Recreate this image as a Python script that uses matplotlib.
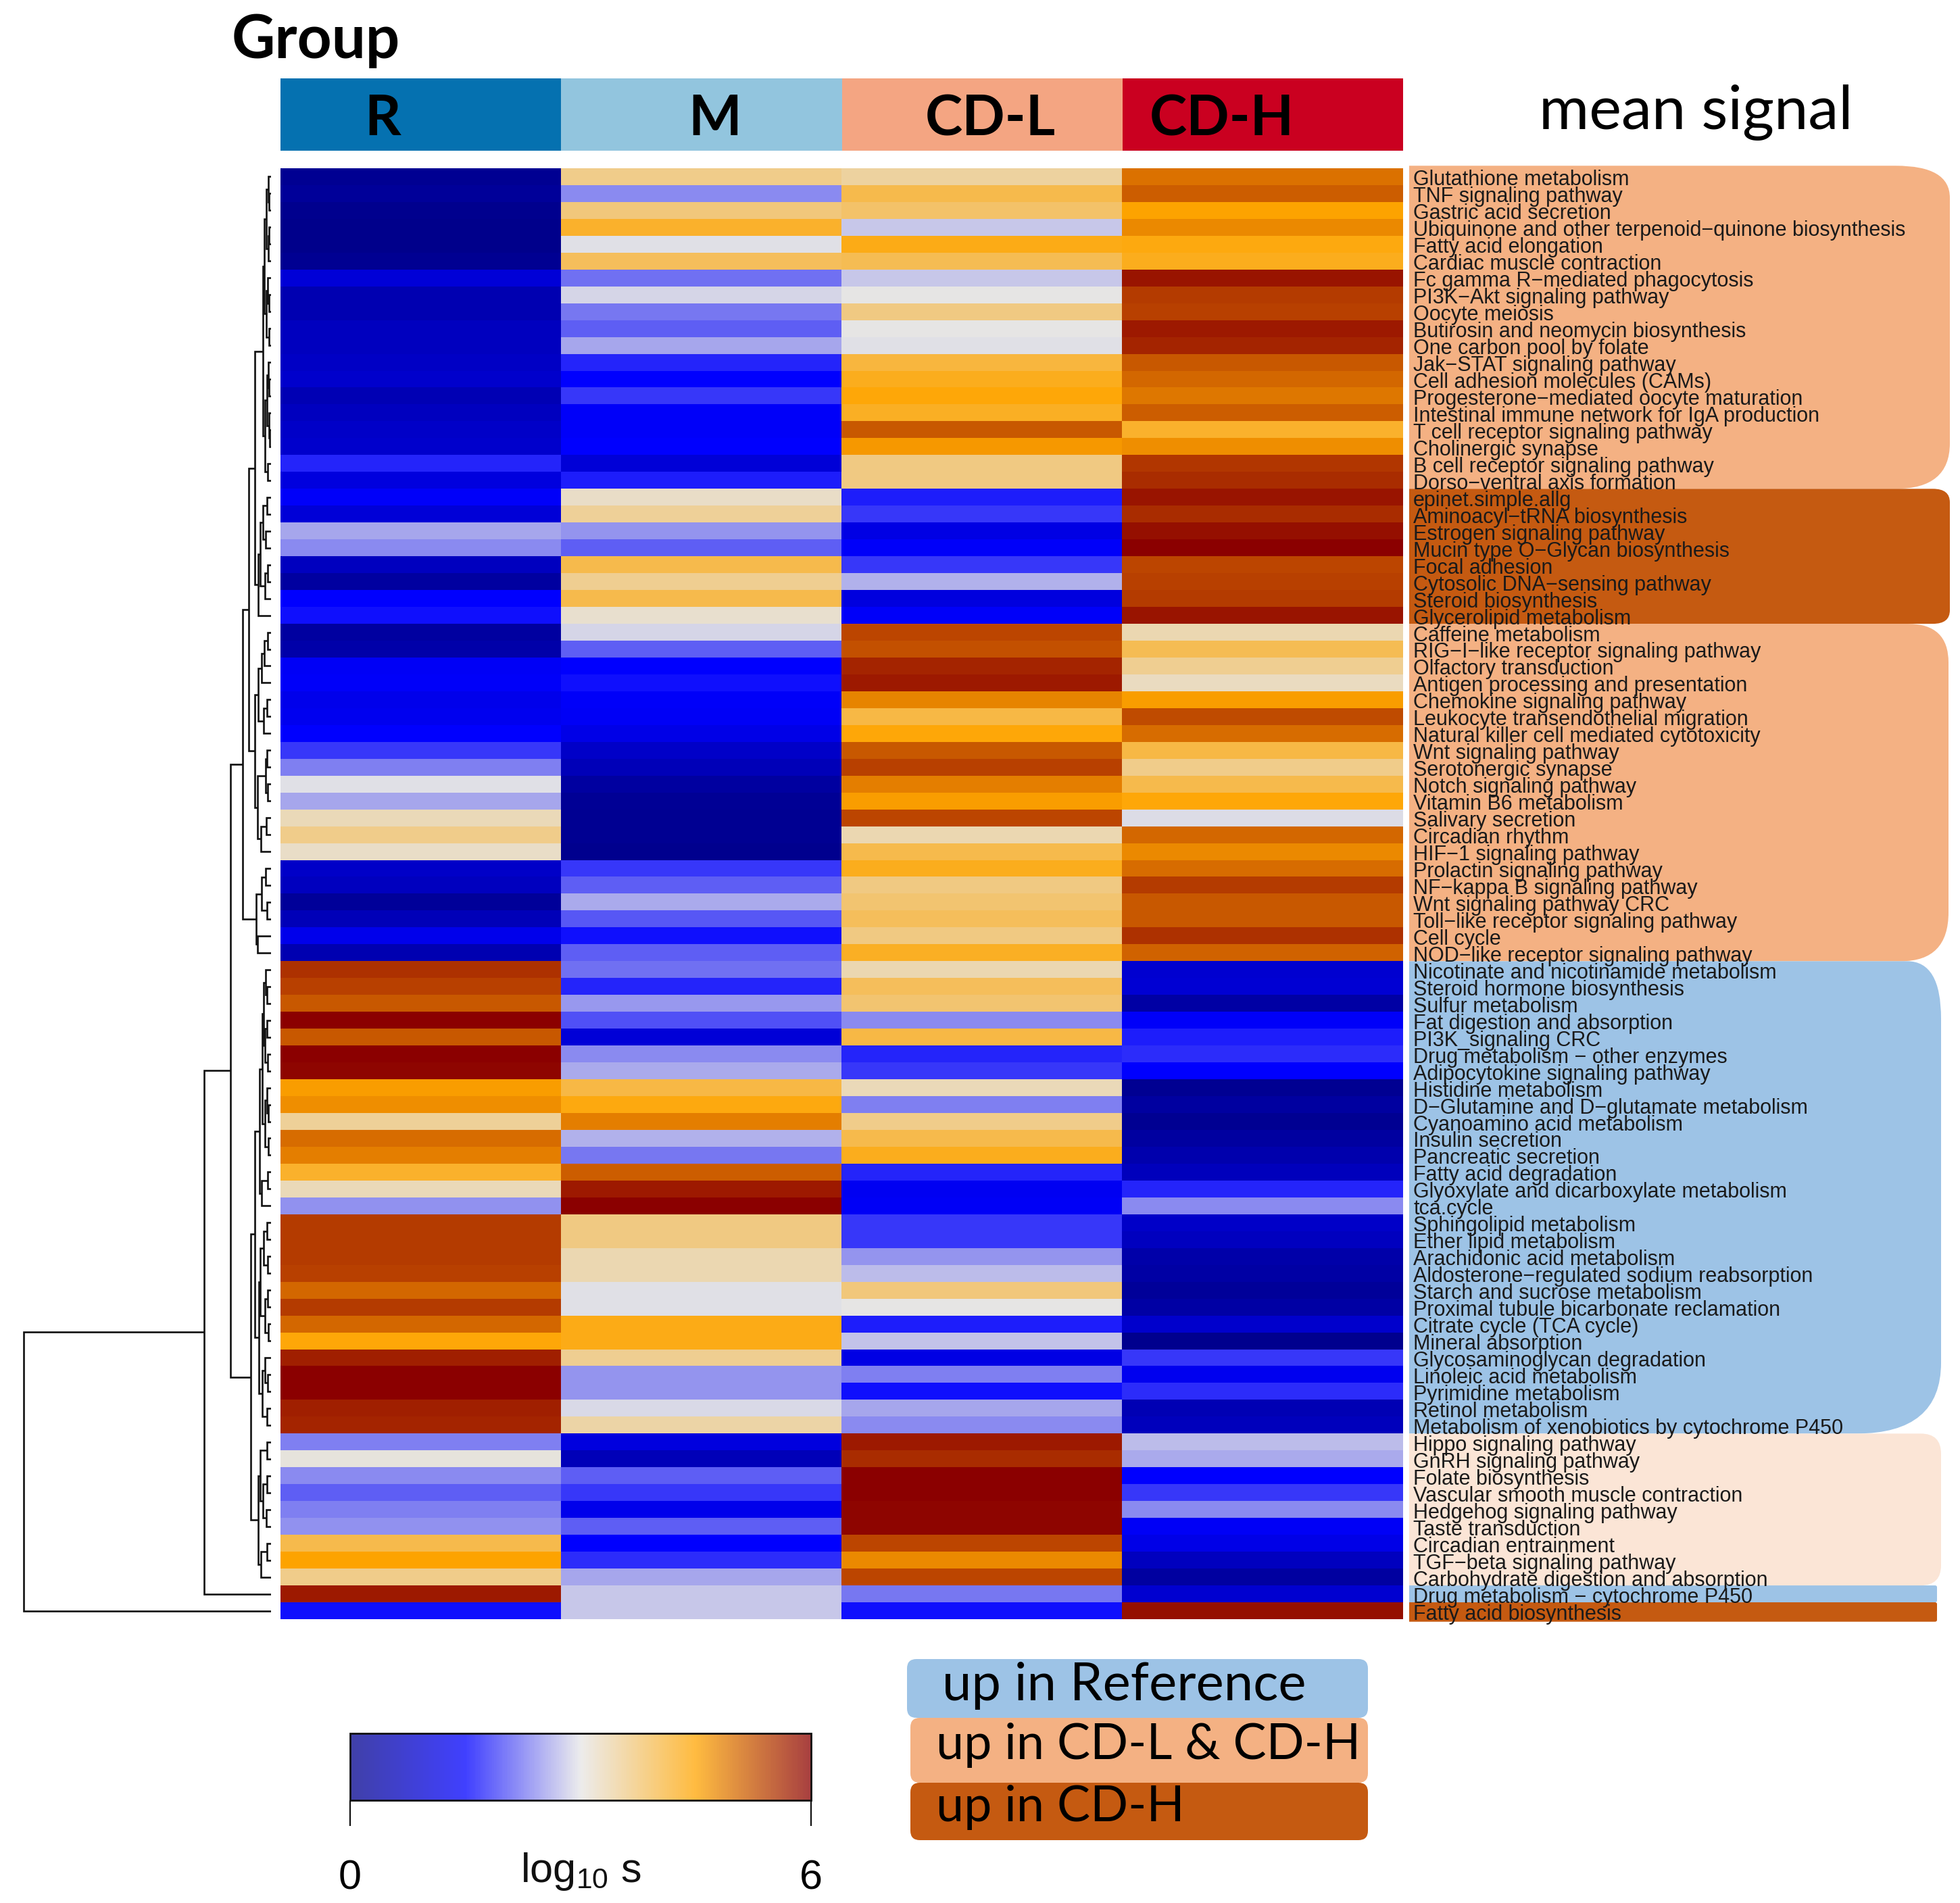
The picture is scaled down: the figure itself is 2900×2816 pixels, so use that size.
import numpy as np
import matplotlib
matplotlib.use('Agg')
import matplotlib.pyplot as plt
from matplotlib.colors import LinearSegmentedColormap
from matplotlib.cm import ScalarMappable
from matplotlib.patches import FancyBboxPatch, PathPatch
from matplotlib.path import Path

plt.rcParams['mathtext.default'] = 'regular'

W, H = 2900, 2816
HEAT_X0, HEAT_X1 = 415, 2076
HEAT_Y0, HEAT_Y1 = 249, 2396

groups = ['R', 'M', 'CD-L', 'CD-H']
group_colors = ['#0571B0', '#92C5DE', '#F4A582', '#CA0020']

pathways = [
    'Glutathione metabolism', 'TNF signaling pathway', 'Gastric acid secretion',
    'Ubiquinone and other terpenoid−quinone biosynthesis', 'Fatty acid elongation',
    'Cardiac muscle contraction', 'Fc gamma R−mediated phagocytosis',
    'PI3K−Akt signaling pathway', 'Oocyte meiosis', 'Butirosin and neomycin biosynthesis',
    'One carbon pool by folate', 'Jak−STAT signaling pathway', 'Cell adhesion molecules (CAMs)',
    'Progesterone−mediated oocyte maturation', 'Intestinal immune network for IgA production',
    'T cell receptor signaling pathway', 'Cholinergic synapse', 'B cell receptor signaling pathway',
    'Dorso−ventral axis formation', 'epinet.simple.allg', 'Aminoacyl−tRNA biosynthesis',
    'Estrogen signaling pathway', 'Mucin type O−Glycan biosynthesis', 'Focal adhesion',
    'Cytosolic DNA−sensing pathway', 'Steroid biosynthesis', 'Glycerolipid metabolism',
    'Caffeine metabolism', 'RIG−I−like receptor signaling pathway', 'Olfactory transduction',
    'Antigen processing and presentation', 'Chemokine signaling pathway',
    'Leukocyte transendothelial migration', 'Natural killer cell mediated cytotoxicity',
    'Wnt signaling pathway', 'Serotonergic synapse', 'Notch signaling pathway',
    'Vitamin B6 metabolism', 'Salivary secretion', 'Circadian rhythm', 'HIF−1 signaling pathway',
    'Prolactin signaling pathway', 'NF−kappa B signaling pathway', 'Wnt signaling pathway CRC',
    'Toll−like receptor signaling pathway', 'Cell cycle', 'NOD−like receptor signaling pathway',
    'Nicotinate and nicotinamide metabolism', 'Steroid hormone biosynthesis', 'Sulfur metabolism',
    'Fat digestion and absorption', 'PI3K_signaling CRC', 'Drug metabolism − other enzymes',
    'Adipocytokine signaling pathway', 'Histidine metabolism',
    'D−Glutamine and D−glutamate metabolism', 'Cyanoamino acid metabolism', 'Insulin secretion',
    'Pancreatic secretion', 'Fatty acid degradation', 'Glyoxylate and dicarboxylate metabolism',
    'tca.cycle', 'Sphingolipid metabolism', 'Ether lipid metabolism', 'Arachidonic acid metabolism',
    'Aldosterone−regulated sodium reabsorption', 'Starch and sucrose metabolism',
    'Proximal tubule bicarbonate reclamation', 'Citrate cycle (TCA cycle)', 'Mineral absorption',
    'Glycosaminoglycan degradation', 'Linoleic acid metabolism', 'Pyrimidine metabolism',
    'Retinol metabolism', 'Metabolism of xenobiotics by cytochrome P450', 'Hippo signaling pathway',
    'GnRH signaling pathway', 'Folate biosynthesis', 'Vascular smooth muscle contraction',
    'Hedgehog signaling pathway', 'Taste transduction', 'Circadian entrainment',
    'TGF−beta signaling pathway', 'Carbohydrate digestion and absorption',
    'Drug metabolism − cytochrome P450', 'Fatty acid biosynthesis',
]

# log10 signal, one value per pathway
r_values = [
    0.1, 0.2, 0.05, 0.0, 0.0, 0.1, 1.0, 0.5, 0.5, 0.7, 0.7, 0.75, 0.85, 0.55, 0.7, 0.8, 0.85, 1.74, 1.1,
    1.45, 1.0, 2.58, 2.41, 0.7, 0.3, 1.5, 1.6,
    0.3, 0.4, 1.4, 1.45, 1.25, 1.3, 1.5, 1.87, 2.34, 2.96, 2.58, 3.3, 3.6, 3.2, 0.8, 0.7, 0.2, 0.6, 1.25, 0.5,
    5.55, 5.4, 5.2, 6.0, 5.2, 6.0, 5.95, 4.55, 4.7, 3.5, 5.0, 4.85, 4.2, 3.3, 2.44, 5.45, 5.45, 5.45, 5.4,
    5.05, 5.45, 5.05, 4.45, 5.7, 6.0, 6.0, 5.7, 5.65,
    2.34, 3.05, 2.41, 2.13, 2.34, 2.44, 4.0, 4.5, 3.6, 5.75, 1.6,
]
m_values = [
    3.6, 2.41, 3.7, 4.2, 2.96, 3.9, 2.23, 2.89, 2.28, 2.13, 2.58, 1.74, 1.5, 1.87, 1.45, 1.45, 1.5, 1.0, 1.71,
    3.2, 3.5, 2.48, 2.13, 4.0, 3.55, 4.0, 3.15,
    2.89, 2.13, 1.5, 1.6, 1.45, 1.4, 1.2, 0.8, 0.6, 0.3, 0.15, 0.1, 0.1, 0.05, 1.87, 2.13, 2.61, 2.07, 1.6, 2.13,
    2.23, 1.74, 2.5, 2.02, 1.0, 2.41, 2.61, 4.05, 4.4, 4.85, 2.67, 2.28, 5.15, 5.75, 6.0, 3.65, 3.65, 3.35, 3.35,
    2.96, 2.97, 4.35, 4.35, 3.55, 2.48, 2.48, 2.92, 3.4,
    1.1, 0.6, 2.13, 1.87, 1.25, 2.13, 1.5, 1.8, 2.58, 2.8, 2.8,
]
cd_l_values = [
    3.45, 4.0, 3.8, 2.8, 4.35, 3.95, 2.8, 3.0, 3.65, 3.0, 2.97, 4.1, 4.3, 4.45, 4.25, 5.2, 4.6, 3.65, 3.65,
    1.71, 1.87, 1.15, 1.45, 1.87, 2.67, 1.1, 1.45,
    5.35, 5.25, 5.65, 5.75, 4.8, 4.05, 4.45, 5.2, 5.4, 4.85, 4.55, 5.35, 3.35, 4.0, 4.3, 3.65, 3.75, 3.9, 3.65, 4.25,
    3.35, 3.9, 3.75, 2.41, 4.05, 1.74, 1.87, 3.3, 2.34, 3.6, 4.0, 4.3, 1.74, 1.35, 1.4, 1.87, 1.87, 2.48, 2.73,
    3.7, 3.0, 1.71, 2.78, 1.15, 2.34, 1.6, 2.6, 2.41,
    5.75, 5.6, 6.0, 6.0, 5.95, 5.95, 5.35, 4.75, 5.35, 2.28, 1.6,
]
cd_h_values = [
    4.95, 5.15, 4.5, 4.75, 4.4, 4.3, 5.8, 5.45, 5.4, 5.75, 5.65, 5.2, 5.05, 4.9, 5.15, 4.2, 4.7, 5.5, 5.6,
    5.8, 5.6, 5.85, 6.0, 5.35, 5.4, 5.45, 5.8,
    3.35, 3.95, 3.55, 3.25, 4.55, 5.3, 5.0, 4.05, 3.6, 4.0, 4.45, 2.93, 5.05, 4.75, 5.0, 5.45, 5.2, 5.2, 5.55, 5.1,
    0.9, 0.95, 0.35, 1.45, 1.71, 1.8, 1.5, 0.1, 0.3, 0.1, 0.3, 0.45, 0.65, 1.74, 2.41, 0.8, 0.7, 0.4, 0.35,
    0.2, 0.35, 0.85, 0.05, 1.87, 1.3, 1.8, 0.55, 0.65,
    2.73, 2.61, 1.5, 1.87, 2.41, 1.4, 1.2, 0.7, 0.3, 0.9, 5.85,
]

# row clustering: (merge height, upper child, lower child), leaves are row numbers
cl1 = (12, (10, (7, (4, 1, (3, 2, 3)), (4, (3, 4, 5), 6)), (7, (5, 7, (3, 8, 9)), (3, 10, 11))),
       (9, (6, (4, 12, (3, 13, 14)), (3, 15, (2, 16, 17))), (5, 18, 19)))
cl2 = (19, (16, (12, (6, 20, 21), (8, 22, 23)), (9, (5, 24, 25), 26)), 27)
cl3 = (19, (14, (10, (5, 28, 29), 30), 31), (11, (6, 32, 33), 34))
cl4 = (20, (8, (6, 35, 36), (5, 37, 38)), (15, (7, 39, 40), 41))
cl5 = (22, (14, (8, 42, 43), (6, 44, 45)), (20, 46, 47))
b1 = (11, (8, 48, (6, 49, 50)), (9, (6, 51, 52), (5, 53, 54)))
b2 = (9, (6, 55, (4, 56, 57)), (4, 58, 59))
b3 = (14, (5, 60, 61), 62)
b4 = (16, (11, (6, 63, 64), (5, 65, 66)), (9, (5, 67, 68), (4, 69, 70)))
b5 = (13, (9, 71, (5, 72, 73)), (6, 74, 75))
cl6 = (24, (17, (13, b1, b2), b3), (18, b4, b5))
cl7 = (19, (16, (6, 76, 77), (12, (6, 78, 79), (7, 80, 81))), (15, (6, 82, 83), 84))
row_tree = (365, (99, (60, (42, (33, (24, cl1, cl2), (24, cl3, cl4)), cl5), (30, cl6, cl7)), 85), 86)

# right hand pathway bands
band_first = [1, 20, 28, 48, 76, 85, 86]
band_last = [19, 27, 47, 75, 84, 85, 86]
band_colors = ['#F4B183', '#C55A11', '#F4B183', '#9DC3E6', '#FBE5D6', '#9DC3E6', '#C55A11']
band_right = [2885, 2885, 2883, 2872, 2872, 2866, 2866]
band_top_round = [(80, 1.9), (25, 0.8), (60, 2.3), (50, 3.4), (30, 1.2), (3, 0.1), (3, 0.1)]
band_bottom_round = [(80, 2.7), (25, 0.8), (70, 2.9), (125, 4.2), (30, 1.2), (3, 0.1), (3, 0.1)]

legend_labels = ['up in Reference', 'up in CD-L & CD-H', 'up in CD-H']
legend_colors = ['#9DC3E6', '#F4B183', '#C55A11']

heat_cmap = LinearSegmentedColormap.from_list(
    'signal', ['#00008B', '#0000FF', '#E6E6E6', '#FFA500', '#8B0000'])


def px_axes(fig, x0, y0, x1, y1):
    return fig.add_axes([x0 / W, 1 - y1 / H, (x1 - x0) / W, (y1 - y0) / H])


def draw_tree(ax, node):
    # returns (height, y) of the node so the parent can join it
    if not isinstance(node, tuple):
        return 0, node
    h, upper, lower = node
    h1, y1 = draw_tree(ax, upper)
    h2, y2 = draw_tree(ax, lower)
    ax.plot([h1, h, h, h2], [y1, y1, y2, y2], color='#111111', lw=1.9,
            solid_joinstyle='miter', solid_capstyle='butt')
    return h, (y1 + y2) / 2


def band_path(x0, x1, y0, y1, top, bottom):
    rx_t, ry_t = top
    rx_b, ry_b = bottom
    verts = [(x0, y0), (x1 - rx_t, y0), (x1, y0), (x1, y0 + ry_t),
             (x1, y1 - ry_b), (x1, y1), (x1 - rx_b, y1), (x0, y1), (x0, y0)]
    codes = [Path.MOVETO, Path.LINETO, Path.CURVE3, Path.CURVE3,
             Path.LINETO, Path.CURVE3, Path.CURVE3, Path.LINETO, Path.CLOSEPOLY]
    return Path(verts, codes)


def main():
    fig = plt.figure(figsize=(W / 100, H / 100), dpi=100, facecolor='white')

    canvas = fig.add_axes([0, 0, 1, 1])
    canvas.set_xlim(0, W)
    canvas.set_ylim(H, 0)
    canvas.axis('off')
    canvas.set_zorder(5)

    # heatmap
    matrix = np.column_stack([r_values, m_values, cd_l_values, cd_h_values])
    ax = px_axes(fig, HEAT_X0, HEAT_Y0, HEAT_X1, HEAT_Y1)
    ax.imshow(matrix, cmap=heat_cmap, vmin=0, vmax=6, aspect='auto',
              interpolation='nearest', extent=[0, 4, 86.5, 0.5])
    ax.axis('off')

    # group strip
    ax_top = px_axes(fig, HEAT_X0, 116, HEAT_X1, 223)
    ax_top.bar(range(4), 1, width=1, color=group_colors, align='edge')
    ax_top.set_xlim(0, 4)
    ax_top.set_ylim(0, 1)
    ax_top.axis('off')
    for label, x in zip(groups, [566, 1058, 1465, 1808]):
        canvas.text(x, 177, label, ha='center', va='center', fontsize=60,
                    fontweight='bold', family='Lato', color='black')
    canvas.text(343, 60, 'Group', ha='left', va='center', fontsize=64,
                fontweight='bold', family='Lato', color='black')
    canvas.text(2509, 167, 'mean signal', ha='center', va='center', fontsize=65,
                family='Lato', color='black')

    # dendrogram, height grows to the left
    ax_tree = px_axes(fig, 30, HEAT_Y0, 401, HEAT_Y1)
    draw_tree(ax_tree, row_tree)
    ax_tree.set_xlim(370, 0)
    ax_tree.set_ylim(86.5, 0.5)
    ax_tree.axis('off')

    # pathway bands with names
    ax_side = px_axes(fig, 2080, HEAT_Y0, 2900, HEAT_Y1)
    ax_side.set_xlim(2080, 2900)
    ax_side.set_ylim(86.5, 0.5)
    ax_side.axis('off')
    for i in range(len(band_first)):
        y0 = band_first[i] - 0.5
        y1 = band_last[i] + 0.5
        if i == 0:
            y0 -= 0.15
        if i == len(band_first) - 1:
            y1 += 0.15
        path = band_path(2085, band_right[i], y0, y1, band_top_round[i], band_bottom_round[i])
        ax_side.add_patch(PathPatch(path, facecolor=band_colors[i], edgecolor='none', clip_on=False))
    for row, name in enumerate(pathways, start=1):
        ax_side.text(2091, row + 0.2, name, ha='left', va='center', fontsize=22,
                     family='Liberation Sans', color='#1a1a1a')

    # legend boxes
    boxes = [(1342, 2455, 2024, 2542), (1347, 2542, 2024, 2638), (1347, 2638, 2024, 2723)]
    text_pos = [(1394, 2494), (1385, 2583), (1385, 2674)]
    legend_sizes = [56, 53, 53]
    for box, color, label, pos, size in zip(boxes, legend_colors, legend_labels, text_pos, legend_sizes):
        x0, y0, x1, y1 = box
        canvas.add_patch(FancyBboxPatch((x0 + 12, y0 + 12), x1 - x0 - 24, y1 - y0 - 24,
                                        boxstyle='round,pad=12,rounding_size=14',
                                        facecolor=color, edgecolor='none'))
        canvas.text(pos[0], pos[1], label, ha='left', va='center', fontsize=size,
                    family='Lato', color='black')

    # colour scale
    cax = px_axes(fig, 518, 2565, 1200, 2664)
    sm = ScalarMappable(cmap=heat_cmap, norm=plt.Normalize(0, 6))
    cbar = fig.colorbar(sm, cax=cax, orientation='horizontal', ticks=[0, 6], alpha=0.75)
    cbar.outline.set_linewidth(2)
    cbar.outline.set_edgecolor('#111111')
    cax.tick_params(axis='x', length=27, width=1.6, pad=36, labelsize=44, color='#111111')
    for tick in cax.get_xticklabels():
        tick.set_family('Liberation Sans')
    canvas.text(859, 2769, 'log$_{10}$ s', ha='center', va='center', fontsize=44,
                family='Liberation Sans', color='#111111')

    fig.savefig('out.png', dpi=100)


if __name__ == '__main__':
    main()
